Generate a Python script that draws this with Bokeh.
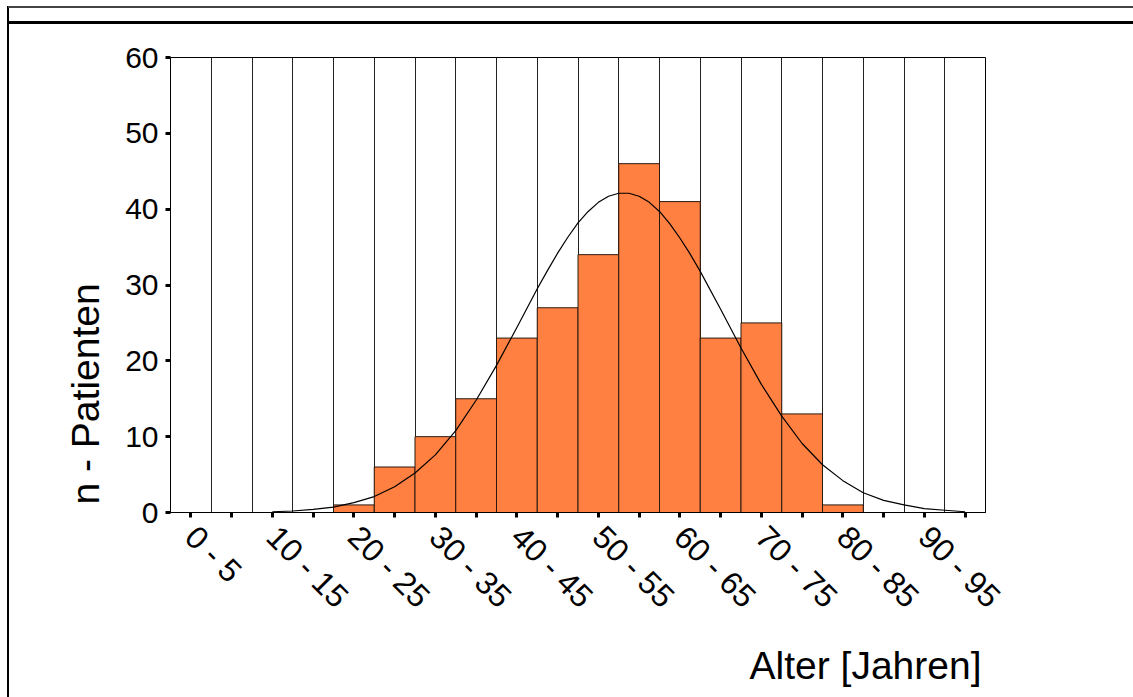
import math
from bokeh.plotting import figure
from bokeh.models import Range1d, FixedTicker, Title
from bokeh.embed import file_html
from bokeh.resources import INLINE

# ---- data ----
bin_lower = [0, 5, 10, 15, 20, 25, 30, 35, 40, 45, 50, 55, 60, 65, 70, 75, 80, 85, 90, 95]
bin_upper = [5, 10, 15, 20, 25, 30, 35, 40, 45, 50, 55, 60, 65, 70, 75, 80, 85, 90, 95, 100]
counts = [0, 0, 0, 0, 1, 6, 10, 15, 23, 27, 34, 46, 41, 23, 25, 13, 1, 0, 0, 0]
bin_labels = ["0 - 5", "", "10 - 15", "", "20 - 25", "", "30 - 35", "", "40 - 45", "",
              "50 - 55", "", "60 - 65", "", "70 - 75", "", "80 - 85", "", "90 - 95", ""]
y_ticks = [0, 10, 20, 30, 40, 50, 60]
x_title = "Alter [Jahren]"
y_title = "n - Patienten"

# normal curve
curve_age = [12.5, 15, 17.5, 20, 22.5, 25, 27.5, 30, 32.5, 35, 37.5, 40, 42.5, 45, 46.25,
             47.5, 48.75, 50, 51.25, 52.5, 53.75, 55, 56.25, 57.5, 58.75, 60, 61.25, 62.5,
             63.75, 65, 67.5, 70, 72.5, 75, 77.5, 80, 82.5, 85, 87.5, 90, 92.5, 95, 97.5]
curve_n = [0.1, 0.2, 0.4, 0.7, 1.3, 2.1, 3.4, 5.2, 7.6, 10.8, 14.8, 19.4, 24.4, 29.5, 31.9,
           34.2, 36.3, 38.2, 39.7, 40.9, 41.7, 42.1, 42.1, 41.7, 40.9, 39.7, 38.1, 36.2,
           34.1, 31.8, 26.8, 21.7, 16.9, 12.7, 9.1, 6.3, 4.2, 2.6, 1.6, 1.0, 0.5, 0.3, 0.1]

FONT = "Liberation Sans"

p = figure(frame_width=815, frame_height=455,
           min_border_left=170, min_border_right=148, min_border_top=57, min_border_bottom=185,
           x_range=Range1d(0, 100), y_range=Range1d(0, 60),
           output_backend="svg", toolbar_location=None)
p.background_fill_color = "white"
p.border_fill_color = None
p.outline_line_color = "black"
p.outline_line_width = 1

# outer frame lines (page decoration) drawn as host background
p.styles = {
    "background-color": "white",
    "background-image": "linear-gradient(#444444,#444444), linear-gradient(#000000,#000000), "
                        "linear-gradient(#000000,#000000)",
    "background-size": "1125px 2px, 1125px 3px, 2px 691px",
    "background-position": "8px 6px, 8px 21px, 7px 6px",
    "background-repeat": "no-repeat",
}

# grid at bin boundaries
p.xgrid.ticker = FixedTicker(ticks=bin_lower + [bin_upper[-1]])
p.xgrid.grid_line_color = "#222222"
p.xgrid.grid_line_width = 1
p.ygrid.grid_line_color = None

p.quad(left=bin_lower, right=bin_upper, bottom=[0] * len(counts), top=counts,
       fill_color="#FF8040", line_color="#2a1a10", line_width=1)

p.line(curve_age, curve_n, line_color="black", line_width=1.2)

# x axis
mids = [(a + b) / 2 for a, b in zip(bin_lower, bin_upper)]
xa = p.xaxis[0]
xa.ticker = FixedTicker(ticks=mids)
xa.major_label_overrides = {m: lab for m, lab in zip(mids, bin_labels)}
xa.major_label_orientation = -math.pi / 4
xa.major_label_text_font = FONT
xa.major_label_text_font_size = "32px"
xa.major_label_text_color = "black"
xa.major_label_standoff = 14
xa.major_tick_out = 5
xa.major_tick_in = 0
xa.major_tick_line_width = 3
xa.major_tick_line_color = "black"
xa.minor_tick_line_color = None
xa.axis_line_color = "black"
xa.axis_line_width = 1

# y axis
ya = p.yaxis[0]
ya.ticker = FixedTicker(ticks=y_ticks)
ya.major_label_text_font = FONT
ya.major_label_text_font_size = "30px"
ya.major_label_text_color = "black"
ya.major_label_standoff = 7
ya.major_tick_out = 5
ya.major_tick_in = 0
ya.major_tick_line_width = 3
ya.major_tick_line_color = "black"
ya.minor_tick_line_color = None
ya.axis_line_color = "black"
ya.axis_line_width = 1

# axis titles as side-panel titles so they can be aligned to the frame ends
p.add_layout(Title(text=x_title, align="right", text_font=FONT, text_font_size="39px",
                   text_font_style="normal", text_color="black", standoff=23,
                   offset=4), "below")
p.add_layout(Title(text=y_title, align="left", text_font=FONT, text_font_size="39px",
                   text_font_style="normal", text_color="black", standoff=32,
                   offset=8), "left")

open("out.html", "w").write(file_html(p, INLINE))
